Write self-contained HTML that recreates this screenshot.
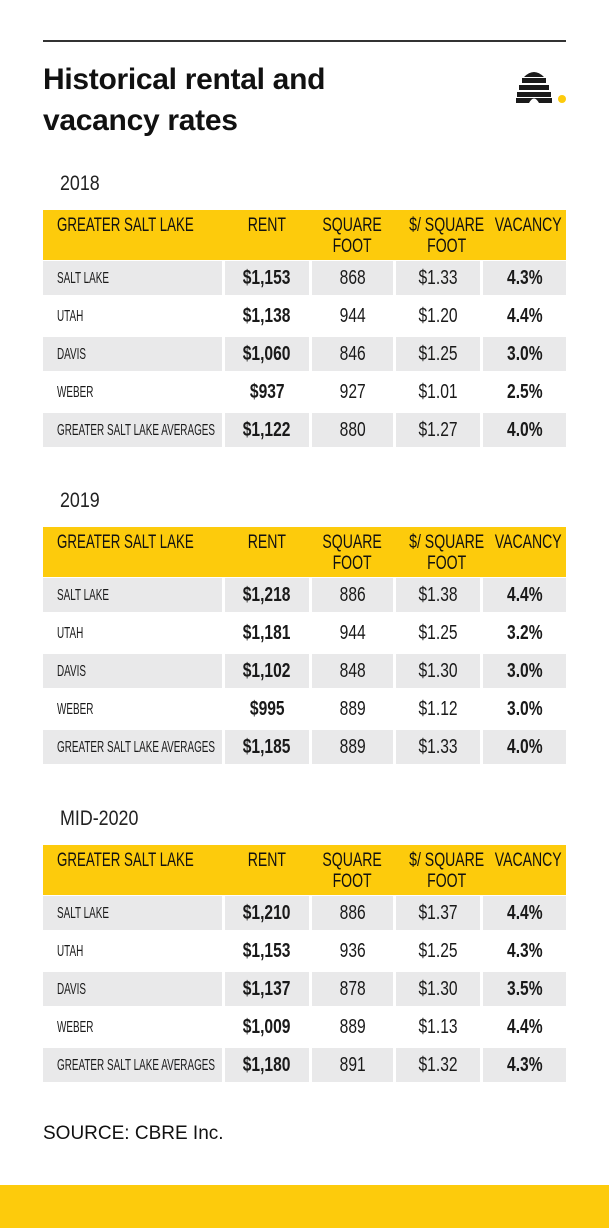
<!DOCTYPE html>
<html><head><meta charset="utf-8"><style>
body{margin:0;width:609px;height:1228px;background:#fff;position:relative;overflow:hidden;font-family:"Liberation Sans",sans-serif;color:#1a1a1a}
.rule{position:absolute;left:43px;top:40px;width:523px;height:2px;background:#333}
h1{position:absolute;left:43px;top:59px;margin:0;font:bold 30px/41px "Liberation Sans",sans-serif;color:#111;letter-spacing:-0.3px}
.yr{position:absolute;left:60px;font:21px "Liberation Sans",sans-serif;color:#222}
.yr span{display:inline-block;transform:scaleX(0.85);transform-origin:left}
.tb{position:absolute;left:43px;width:523px}
.hd{position:absolute;left:0;top:0;width:523px;height:50px;background:#fdcb0c}
.hd div{position:absolute;top:5px;font-size:19px;line-height:21px;text-align:center;white-space:nowrap;color:#111}
.hd span{transform:scaleX(0.74)}
.row{position:absolute;left:0;width:523px;height:34px}
.row div{position:absolute;top:0;height:34px;line-height:35px;text-align:center;font-size:20px;white-space:nowrap}
.g div{background:#e9e9ea}
span{display:inline-block;transform:scaleX(0.78);transform-origin:center}
.c0{left:0;width:179px;text-align:left!important;padding-left:14px;box-sizing:border-box;z-index:2}
.hd .c0 span{transform-origin:left;transform:scaleX(0.7)}
.row .c0{font-size:16px}
.row .c0 span{transform-origin:left;transform:scaleX(0.62)}
.c1{left:182px;width:84px}.c2{left:269px;width:81px}.c3{left:353px;width:84px}.c4{left:440px;width:83px}
.b{font-weight:bold}
.src{position:absolute;left:43px;top:1123px;font:19px "Liberation Sans",sans-serif;color:#111}
.band{position:absolute;left:0;top:1185px;width:609px;height:43px;background:#fdcb0c}
</style></head><body>
<div class="rule"></div>
<h1>Historical rental and<br>vacancy rates</h1>
<svg style="position:absolute;left:516px;top:68px" width="52" height="36" viewBox="0 0 52 36">
<path d="M8 9 Q18 -1 28 9 Z" fill="#1a1a1a"/>
<rect x="6" y="10" width="24" height="5" fill="#1a1a1a"/>
<rect x="3" y="17" width="30" height="5" fill="#1a1a1a"/>
<rect x="1" y="24" width="34" height="5" fill="#1a1a1a"/>
<path d="M0 30 H36 V35 H23 Q18 26 13 35 H0 Z" fill="#1a1a1a"/>
<circle cx="46" cy="31" r="4" fill="#fdcb0c"/>
</svg>

<div class="yr" style="top:172px"><span>2018</span></div>
<div class="tb" style="top:210px">
<div class="hd"><div class="c0"><span>GREATER SALT LAKE</span></div><div class="c1"><span>RENT</span></div><div class="c2"><span>SQUARE<br>FOOT</span></div><div class="c3"><span>$/ SQUARE<br>FOOT</span></div><div class="c4"><span>VACANCY</span></div></div>
<div class="row g" style="top:51px"><div class="c0"><span>SALT LAKE</span></div><div class="c1 b"><span>$1,153</span></div><div class="c2"><span>868</span></div><div class="c3"><span>$1.33</span></div><div class="c4 b"><span>4.3%</span></div></div>
<div class="row" style="top:89px"><div class="c0"><span>UTAH</span></div><div class="c1 b"><span>$1,138</span></div><div class="c2"><span>944</span></div><div class="c3"><span>$1.20</span></div><div class="c4 b"><span>4.4%</span></div></div>
<div class="row g" style="top:127px"><div class="c0"><span>DAVIS</span></div><div class="c1 b"><span>$1,060</span></div><div class="c2"><span>846</span></div><div class="c3"><span>$1.25</span></div><div class="c4 b"><span>3.0%</span></div></div>
<div class="row" style="top:165px"><div class="c0"><span>WEBER</span></div><div class="c1 b"><span>$937</span></div><div class="c2"><span>927</span></div><div class="c3"><span>$1.01</span></div><div class="c4 b"><span>2.5%</span></div></div>
<div class="row g" style="top:203px"><div class="c0"><span>GREATER SALT LAKE AVERAGES</span></div><div class="c1 b"><span>$1,122</span></div><div class="c2"><span>880</span></div><div class="c3"><span>$1.27</span></div><div class="c4 b"><span>4.0%</span></div></div>
</div>

<div class="yr" style="top:489px"><span>2019</span></div>
<div class="tb" style="top:527px">
<div class="hd"><div class="c0"><span>GREATER SALT LAKE</span></div><div class="c1"><span>RENT</span></div><div class="c2"><span>SQUARE<br>FOOT</span></div><div class="c3"><span>$/ SQUARE<br>FOOT</span></div><div class="c4"><span>VACANCY</span></div></div>
<div class="row g" style="top:51px"><div class="c0"><span>SALT LAKE</span></div><div class="c1 b"><span>$1,218</span></div><div class="c2"><span>886</span></div><div class="c3"><span>$1.38</span></div><div class="c4 b"><span>4.4%</span></div></div>
<div class="row" style="top:89px"><div class="c0"><span>UTAH</span></div><div class="c1 b"><span>$1,181</span></div><div class="c2"><span>944</span></div><div class="c3"><span>$1.25</span></div><div class="c4 b"><span>3.2%</span></div></div>
<div class="row g" style="top:127px"><div class="c0"><span>DAVIS</span></div><div class="c1 b"><span>$1,102</span></div><div class="c2"><span>848</span></div><div class="c3"><span>$1.30</span></div><div class="c4 b"><span>3.0%</span></div></div>
<div class="row" style="top:165px"><div class="c0"><span>WEBER</span></div><div class="c1 b"><span>$995</span></div><div class="c2"><span>889</span></div><div class="c3"><span>$1.12</span></div><div class="c4 b"><span>3.0%</span></div></div>
<div class="row g" style="top:203px"><div class="c0"><span>GREATER SALT LAKE AVERAGES</span></div><div class="c1 b"><span>$1,185</span></div><div class="c2"><span>889</span></div><div class="c3"><span>$1.33</span></div><div class="c4 b"><span>4.0%</span></div></div>
</div>

<div class="yr" style="top:807px"><span>MID-2020</span></div>
<div class="tb" style="top:845px">
<div class="hd"><div class="c0"><span>GREATER SALT LAKE</span></div><div class="c1"><span>RENT</span></div><div class="c2"><span>SQUARE<br>FOOT</span></div><div class="c3"><span>$/ SQUARE<br>FOOT</span></div><div class="c4"><span>VACANCY</span></div></div>
<div class="row g" style="top:51px"><div class="c0"><span>SALT LAKE</span></div><div class="c1 b"><span>$1,210</span></div><div class="c2"><span>886</span></div><div class="c3"><span>$1.37</span></div><div class="c4 b"><span>4.4%</span></div></div>
<div class="row" style="top:89px"><div class="c0"><span>UTAH</span></div><div class="c1 b"><span>$1,153</span></div><div class="c2"><span>936</span></div><div class="c3"><span>$1.25</span></div><div class="c4 b"><span>4.3%</span></div></div>
<div class="row g" style="top:127px"><div class="c0"><span>DAVIS</span></div><div class="c1 b"><span>$1,137</span></div><div class="c2"><span>878</span></div><div class="c3"><span>$1.30</span></div><div class="c4 b"><span>3.5%</span></div></div>
<div class="row" style="top:165px"><div class="c0"><span>WEBER</span></div><div class="c1 b"><span>$1,009</span></div><div class="c2"><span>889</span></div><div class="c3"><span>$1.13</span></div><div class="c4 b"><span>4.4%</span></div></div>
<div class="row g" style="top:203px"><div class="c0"><span>GREATER SALT LAKE AVERAGES</span></div><div class="c1 b"><span>$1,180</span></div><div class="c2"><span>891</span></div><div class="c3"><span>$1.32</span></div><div class="c4 b"><span>4.3%</span></div></div>
</div>

<div class="src">SOURCE: CBRE Inc.</div>
<div class="band"></div>
</body></html>
